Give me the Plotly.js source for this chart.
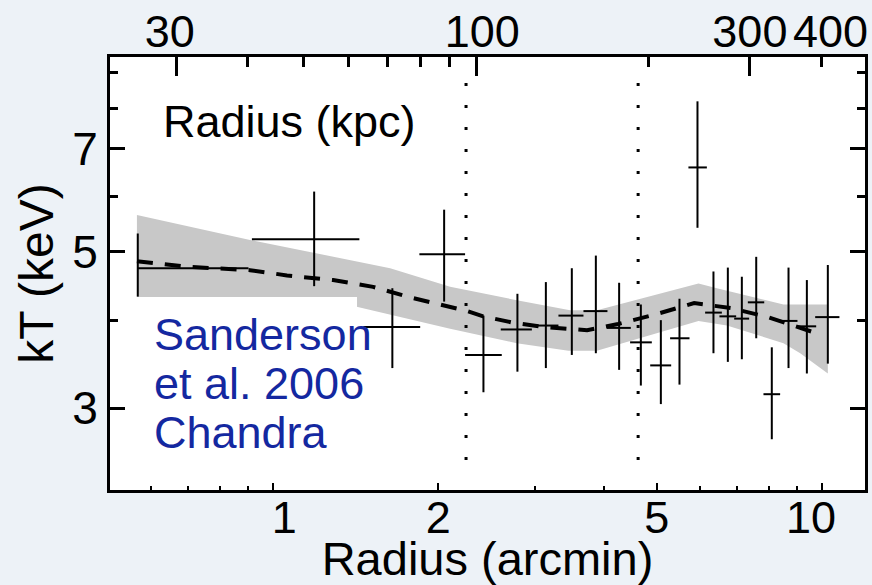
<!DOCTYPE html>
<html>
<head>
<meta charset="utf-8">
<script src="https://cdn.plot.ly/plotly-3.0.1.min.js"></script>
<style>
  html, body { margin: 0; padding: 0; background: #edf2f7; }
  #chart { width: 872px; height: 585px; }
</style>
</head>
<body>
<div id="chart"></div>
<script>
// Projected temperature profile (Chandra, Sanderson et al. 2006)
// bin centres and bin edges, arcmin
const radius   = [0.567, 1.188, 1.649, 2.049, 2.416, 2.786, 3.139, 3.500, 3.871, 4.268, 4.675,
                  5.084, 5.497, 5.928, 6.339, 6.733, 7.140, 7.584, 8.096, 8.684, 9.378, 10.24];
const radiusLo = [0.567, 0.915, 1.460, 1.847, 2.237, 2.598, 2.960, 3.309, 3.675, 4.053, 4.469,
                  4.862, 5.285, 5.707, 6.121, 6.500, 6.914, 7.322, 7.818, 8.363, 8.994, 9.711];
const radiusHi = [0.902, 1.436, 1.853, 2.237, 2.609, 2.960, 3.309, 3.675, 4.064, 4.482, 4.895,
                  5.309, 5.733, 6.166, 6.566, 6.972, 7.362, 7.843, 8.384, 9.016, 9.752, 10.75];
// temperature and its 1-sigma range, keV
const kT   = [4.74, 5.21, 3.91, 4.96, 3.57, 3.88, 3.93, 4.06, 4.12, 3.90, 3.72,
              3.45, 3.77, 6.59, 4.10, 4.05, 4.02, 4.24, 3.14, 3.99, 3.92, 4.04];
const kTLo = [4.32, 4.47, 3.42, 4.25, 3.16, 3.38, 3.42, 3.57, 3.59, 3.40, 3.23,
              3.04, 3.24, 5.41, 3.59, 3.49, 3.52, 3.77, 2.71, 3.42, 3.36, 3.47];
const kTHi = [5.31, 6.09, 4.44, 5.74, 4.06, 4.36, 4.53, 4.74, 4.94, 4.52, 4.21,
              4.00, 4.29, 8.18, 4.69, 4.75, 4.61, 4.92, 3.66, 4.75, 4.56, 4.79];

// best-fit model profile
const modelR  = [0.565, 0.706, 0.908, 1.060, 1.286, 1.521, 1.776, 2.040, 2.256, 2.413,
                 2.725, 3.130, 3.732, 4.250, 5.048, 5.846, 6.829, 7.971, 9.273, 9.590];
const modelKT = [4.85, 4.76, 4.71, 4.63, 4.56, 4.46, 4.31, 4.20, 4.12, 4.05,
                 3.97, 3.91, 3.87, 3.95, 4.09, 4.23, 4.16, 4.04, 3.88, 3.85];

// model uncertainty envelope
const bandUpR  = [0.565, 0.908, 1.634, 2.101, 2.779, 3.475, 3.888, 5.953, 6.430, 8.502, 10.24];
const bandUpKT = [5.64, 5.20, 4.74, 4.46, 4.27, 4.13, 4.13, 4.51, 4.44, 4.21, 4.21];
const bandLoR  = [0.565, 0.908, 1.420, 2.101, 2.779, 3.451, 3.888, 5.953, 6.706, 8.502, 9.119, 10.24];
const bandLoKT = [4.10, 4.13, 4.18, 3.89, 3.71, 3.62, 3.62, 3.99, 3.93, 3.71, 3.59, 3.36];

// region boundaries, arcmin
const boundaries = [2.246, 4.622];

// axis ticks
const arcminTicks = [1, 2, 5, 10];
const arcminLabels = ['\u20021', '2', '5', '10\u2002'];
const arcminMinor = [0.6, 0.7, 0.8, 0.9, 3, 4, 6, 7, 8, 9];
const kpcTicks = [30, 100, 300];
const kpcLabels = ['30\u2008', '\u2008100', '300'];
const kpcMinor = [40, 50, 60, 70, 80, 90, 200, 400];
const kpcExtraTicks = [400];
const kpcExtraLabels = ['400'];
const kTTicks = [3, 5, 7];
const kTMinor = [4, 6, 8, 9];

const FONT = 'Liberation Sans, Arial, Helvetica, sans-serif';

const band = {
  x: bandUpR.concat(bandLoR.slice().reverse()),
  y: bandUpKT.concat(bandLoKT.slice().reverse()),
  type: 'scatter', mode: 'lines', fill: 'toself',
  fillcolor: '#c8c8c8', line: {width: 0, color: '#c8c8c8'},
  hoverinfo: 'skip'
};

const model = {
  x: modelR, y: modelKT, type: 'scatter', mode: 'lines',
  line: {color: '#000', width: 4, dash: '16px,12px'},
  hoverinfo: 'skip'
};

const data = {
  x: radius, y: kT, type: 'scatter', mode: 'markers',
  marker: {size: 2, opacity: 0},
  error_x: {type: 'data', symmetric: false,
            array: radius.map((r, i) => radiusHi[i] - r),
            arrayminus: radius.map((r, i) => r - radiusLo[i]),
            width: 0, thickness: 2, color: '#000'},
  error_y: {type: 'data', symmetric: false,
            array: kT.map((t, i) => kTHi[i] - t),
            arrayminus: kT.map((t, i) => t - kTLo[i]),
            width: 0, thickness: 2, color: '#000'},
  hoverinfo: 'skip'
};

// empty carriers so the physical-radius (kpc) axes on top get drawn
const kpcCarrier = {
  x: kpcTicks, y: kpcTicks.map(() => null), xaxis: 'x2', yaxis: 'y',
  type: 'scatter', mode: 'markers', marker: {opacity: 0}, hoverinfo: 'skip'
};
const kpcCarrier2 = {
  x: kpcExtraTicks, y: kpcExtraTicks.map(() => null), xaxis: 'x3', yaxis: 'y',
  type: 'scatter', mode: 'markers', marker: {opacity: 0}, hoverinfo: 'skip'
};

const kpcRange = [1.3621, 2.6777];

const shapes = boundaries.map(b => ({
  type: 'line', xref: 'x', yref: 'paper', x0: b, x1: b, y0: 0.069, y1: 0.979,
  line: {color: '#000', width: 3, dash: '3px,19px'}, layer: 'above'
}));
// white panel behind the citation text
shapes.push({
  type: 'rect', xref: 'paper', yref: 'paper', x0: 0.0265, x1: 0.3272, y0: 0.0647, y1: 0.4457,
  fillcolor: '#ffffff', line: {width: 0}, layer: 'above'
});

const citeLines = ['Sanderson', 'et al. 2006', 'Chandra'];
const citeY = [0.358, 0.245, 0.132];

const annotations = [{
  text: 'Radius (kpc)', xref: 'paper', yref: 'paper', x: 0.0675, y: 0.852,
  xanchor: 'left', yanchor: 'middle', showarrow: false,
  font: {family: FONT, size: 45, color: '#000'}
}].concat(citeLines.map((t, i) => ({
  text: t, xref: 'paper', yref: 'paper', x: 0.0556, y: citeY[i],
  xanchor: 'left', yanchor: 'middle', showarrow: false,
  font: {family: FONT, size: 45, color: '#1428a0'}
})));

const layout = {
  width: 872, height: 585,
  paper_bgcolor: '#edf2f7', plot_bgcolor: '#ffffff',
  margin: {l: 110, r: 7, t: 57, b: 95, pad: 0},
  showlegend: false,
  font: {family: FONT, color: '#000'},
  xaxis: {
    type: 'log', range: [-0.297, 1.078],
    showline: true, linewidth: 3, linecolor: '#000', mirror: true,
    showgrid: false, zeroline: false,
    ticks: 'inside', ticklen: 7, tickwidth: 2, tickcolor: '#000',
    tickvals: arcminTicks, ticktext: arcminLabels,
    tickfont: {family: FONT, size: 45}, ticklabelstandoff: -14,
    minor: {tickvals: arcminMinor, ticks: 'inside', ticklen: 4, tickwidth: 2, tickcolor: '#000', showgrid: false},
    title: {text: 'Radius (arcmin)', font: {family: FONT, size: 47}, standoff: 0}
  },
  xaxis2: {
    type: 'log', range: kpcRange, overlaying: 'x', side: 'top',
    showline: false, showgrid: false, zeroline: false,
    ticks: 'inside', ticklen: 19, tickwidth: 3, tickcolor: '#000',
    tickvals: kpcTicks, ticktext: kpcLabels,
    tickfont: {family: FONT, size: 45},
    minor: {tickvals: kpcMinor, ticks: 'inside', ticklen: 10, tickwidth: 3, tickcolor: '#000', showgrid: false}
  },
  xaxis3: {
    type: 'log', range: kpcRange, overlaying: 'x', side: 'top',
    showline: false, showgrid: false, zeroline: false, ticks: '',
    tickvals: kpcExtraTicks, ticktext: kpcExtraLabels, ticklabelshift: 9,
    tickfont: {family: FONT, size: 45}
  },
  yaxis: {
    type: 'log', range: [0.3609, 0.9757],
    showline: true, linewidth: 3, linecolor: '#000', mirror: 'ticks',
    showgrid: false, zeroline: false,
    ticks: 'inside', ticklen: 15, tickwidth: 3, tickcolor: '#000',
    tickvals: kTTicks, ticktext: kTTicks.map(String),
    tickfont: {family: FONT, size: 46},
    minor: {tickvals: kTMinor, ticks: 'inside', ticklen: 8, tickwidth: 3, tickcolor: '#000', showgrid: false},
    title: {text: 'kT (keV)\u2003\u200a', font: {family: FONT, size: 48}, standoff: 4}
  },
  shapes: shapes,
  annotations: annotations
};

Plotly.newPlot('chart', [band, model, data, kpcCarrier, kpcCarrier2], layout,
               {displayModeBar: false, staticPlot: true});
</script>
</body>
</html>
